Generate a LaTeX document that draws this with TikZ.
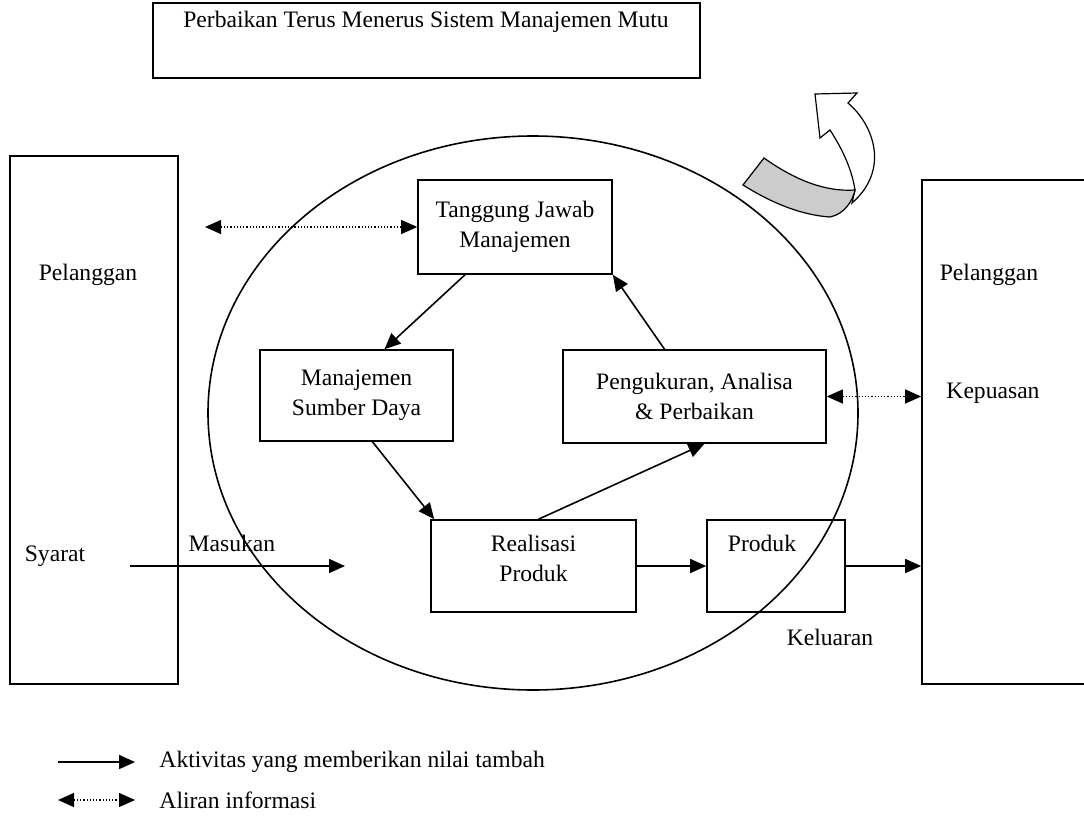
\documentclass[tikz,border=0pt]{standalone}
\usepackage{fontspec}
\setmainfont{Liberation Serif}
\usetikzlibrary{arrows.meta,calc}
\tikzset{
  kotak/.style={draw, align=center, inner sep=0pt},
  info/.style={{Triangle[length=8pt,width=7pt]}-{Triangle[length=8pt,width=7pt]}, line width=0.6pt, dash pattern=on 0.6pt off 1pt},
}
\begin{document}
\begin{tikzpicture}[x=0.5pt, y=-0.5pt, >={Triangle[length=8pt,width=7pt]}, line width=0.8pt, font=\fontsize{11.8}{15}\selectfont]
\useasboundingbox (0,0) rectangle (1084,820);

\node[kotak, minimum width=273.5pt, minimum height=37.5pt] (mutu) at (426.5,40.5) {};
\node (judul) at (426,22) {Perbaikan Terus Menerus Sistem Manajemen Mutu};

% pelanggan kiri dan kanan
\node[kotak, minimum width=84pt, minimum height=264pt] (kiri) at (94,420) {};
\node (pel1) at (88,275) {Pelanggan};
\node (syarat) at (55,556) {Syarat};
\node[kotak, minimum width=89pt, minimum height=252pt] (kanan) at (1011,432) {};
\node (pel2) at (989,275) {Pelanggan};
\node (puas) at (993,393) {Kepuasan};

\draw (533,413) ellipse [x radius=162.5pt, y radius=138.5pt];

\node[kotak, minimum width=97pt, minimum height=47pt] (tj) at (515,227) {Tanggung Jawab\\Manajemen};
\node[kotak, minimum width=96.5pt, minimum height=45.5pt] (msd) at (356.5,395.5) {Manajemen\\Sumber Daya};
\node[kotak, minimum width=131.5pt, minimum height=46.5pt] (pap) at (694.5,396.5) {Pengukuran, Analisa\\\& Perbaikan};
\node[kotak, minimum width=102.5pt, minimum height=46pt, text depth=8pt] (rp) at (533.5,566) {Realisasi\\Produk};
\node[kotak, minimum width=69pt, minimum height=46pt] (produk) at (776,566) {};
\node (produktxt) at (762,543) {Produk};

\draw[->] ($(tj.south)+(-50,0)$) -- ($(msd.north)+(28,0)$);
\draw[->] ($(pap.north)+(-30,0)$) -- (tj.south east);
\draw[->] ($(msd.south)+(16,0)$) -- ($(rp.north west)+(4,0)$);
\draw[->] ($(rp.north)+(5,0)$) -- ($(pap.south)+(10,0)$);
\draw[->] (rp) -- (produk);
\draw[->] (produk.east) -- (produk.east -| kanan.west);

\coordinate (masuk) at (130,566);
\coordinate (masukend) at (345,566);
\draw[->] (masuk) -- (masukend);
\node (masukan) at (232,543) {Masukan};
\node (keluaran) at (830,637) {Keluaran};

\coordinate (infokiri) at (205,227);
\draw[info] (infokiri) -- (tj);
\draw[info] (pap.east) -- (pap.east -| kanan.west);

% panah lengkung
\filldraw[fill=white, line width=0.6pt] (855,190) .. controls (852,170) and (843,150) .. (830,130) -- (820,138) -- (815,94) -- (857,93) -- (848,103) .. controls (874,125) and (890,170) .. (852,203) -- cycle;
\filldraw[fill=gray!40, line width=0.6pt] (764,158) .. controls (795,180) and (825,192) .. (855,190) .. controls (853,200) and (845,214) .. (830,217) .. controls (800,215) and (770,202) .. (743,185) -- cycle;

% keterangan
\coordinate (l1a) at (58,762); \coordinate (l1b) at (135,762);
\draw[->] (l1a) -- (l1b);
\node[anchor=west] (leg1) at (152,762) {Aktivitas yang memberikan nilai tambah};
\coordinate (l2a) at (58,800); \coordinate (l2b) at (135,800);
\draw[info] (l2a) -- (l2b);
\node[anchor=west] (leg2) at (152,800) {Aliran informasi};

\end{tikzpicture}
\end{document}
